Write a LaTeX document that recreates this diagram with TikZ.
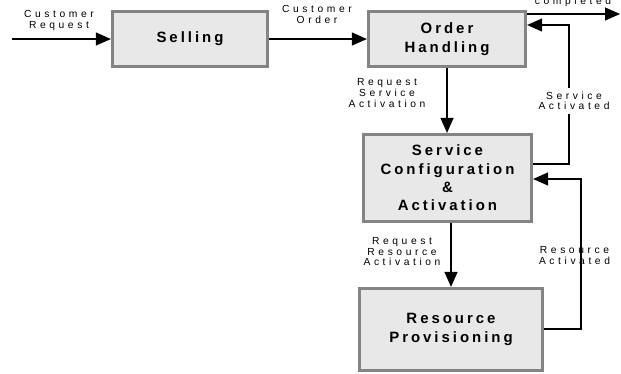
\documentclass[tikz,border=0pt]{standalone}
\usepackage{fontspec}
\newfontfamily\lblfont[LetterSpace=35]{Liberation Sans}
\newfontfamily\boxfontfam[LetterSpace=20]{Liberation Sans}
\usetikzlibrary{arrows.meta}
\definecolor{boxfill}{RGB}{232,232,232}
\definecolor{boxline}{RGB}{132,132,132}
\begin{document}
\begin{tikzpicture}[x=1bp,y=-1bp,
  procbox/.style={draw=boxline, fill=boxfill, line width=3.2bp, align=center,
    font=\boxfontfam\bfseries\fontsize{15}{18.5}\selectfont, inner sep=0pt},
  lbl/.style={font=\lblfont\fontsize{10.3}{10.8}\selectfont, align=center, inner sep=0pt, anchor=north},
  flow/.style={line width=1.1bp, -{Triangle[length=15bp,width=13bp]}}]
\useasboundingbox (0,0) rectangle (621,373);

\node[procbox, minimum width=155bp, minimum height=55bp] (sell) at (190,39) {Selling};
\node[procbox, minimum width=157bp, minimum height=55bp] (oh) at (447,39) {Order\\Handling};
\node[procbox, minimum width=168bp, minimum height=87bp] (sca) at (447.5,178) {Service\\Configuration\\\&\\Activation};
\node[procbox, minimum width=183bp, minimum height=82bp] (rp) at (451,329.5) {Resource\\Provisioning};

\coordinate (start) at (12,39);
\coordinate (done) at (620,14);
\coordinate (sa1) at (569,164);
\coordinate (sa2) at (569,25);
\coordinate (ra1) at (581,329);
\coordinate (ra2) at (581,179);

\draw[flow] (start) -- (sell);
\draw[flow] (sell) -- (oh);
\draw[flow] (oh.east |- done) -- (done);
\draw[flow] (oh.south) -- (oh.south |- sca.north);
\draw[flow] (rp.north |- sca.south) -- (rp.north);
\draw[flow] (sca.east |- sa1) -- (sa1) -- (sa2) -- (oh.east |- sa2);
\draw[flow] (rp.east |- ra1) -- (ra1) -- (ra2) -- (sca.east |- ra2);

\node[lbl] (lcr) at (59,10.6) {Customer\\Request};
\node[lbl] (lco) at (317,5.6) {Customer\\Order};
\node[lbl, anchor=base] (lcomp) at (573,4) {completed};
\node[lbl] (lrsa) at (387,78.5) {Request\\Service\\Activation};
\node[lbl, fill=white, inner xsep=1bp, inner ysep=4bp] (lsa) at (574,87.5) {Service\\Activated};
\node[lbl] (lrra) at (402,237) {Request\\Resource\\Activation};
\node[lbl] (lra) at (574.5,246.5) {Resource\\Activated};
\end{tikzpicture}
\end{document}
